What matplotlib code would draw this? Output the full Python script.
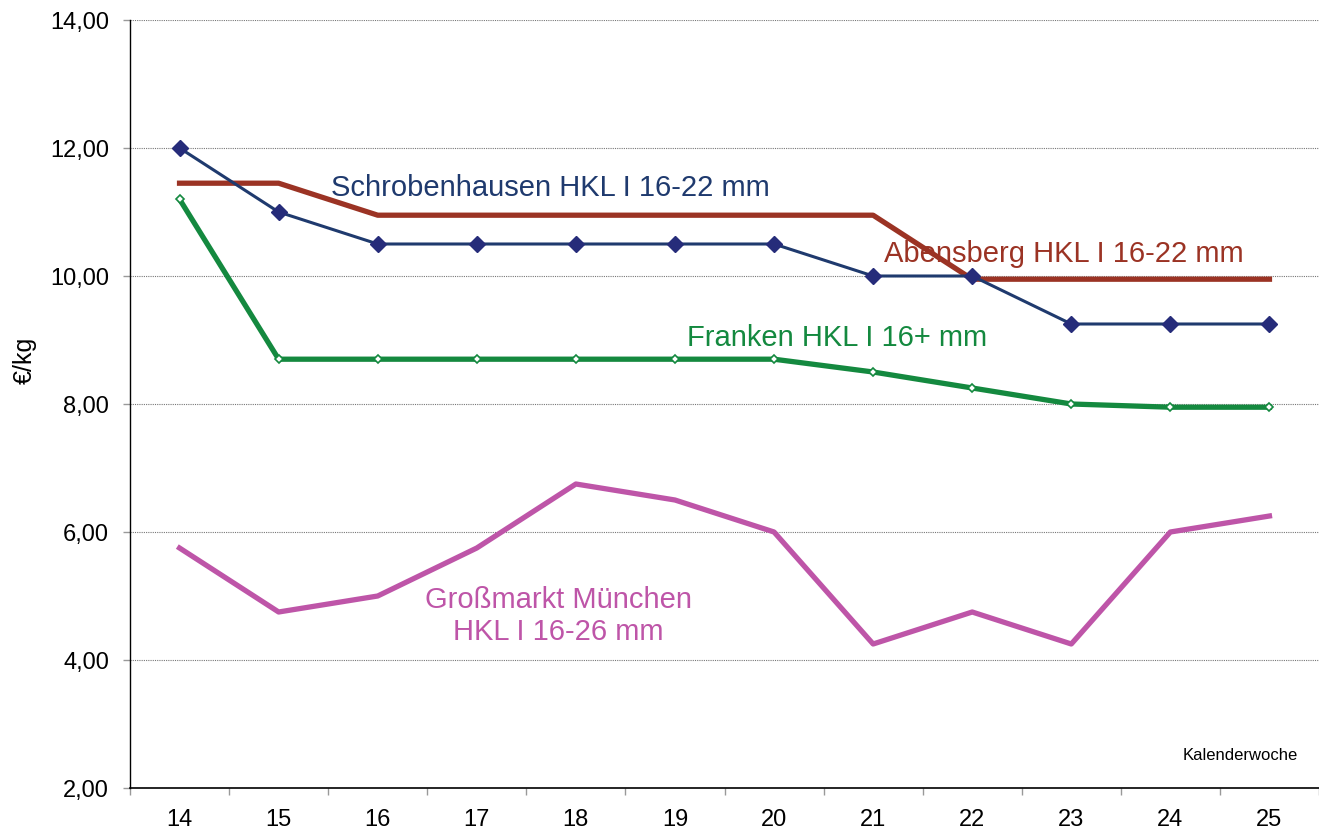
import matplotlib
matplotlib.use("Agg")
from matplotlib import pyplot as plt
from matplotlib.ticker import FuncFormatter

plt.rcParams['font.family'] = ['Liberation Sans', 'DejaVu Sans']

weeks = [14, 15, 16, 17, 18, 19, 20, 21, 22, 23, 24, 25]
schrobenhausen = [12.0, 11.0, 10.5, 10.5, 10.5, 10.5, 10.5, 10.0, 10.0, 9.25, 9.25, 9.25]
abensberg = [11.45, 11.45, 10.95, 10.95, 10.95, 10.95, 10.95, 10.95, 9.95, 9.95, 9.95, 9.95]
franken = [11.2, 8.7, 8.7, 8.7, 8.7, 8.7, 8.7, 8.5, 8.25, 8.0, 7.95, 7.95]
grossmarkt = [5.75, 4.75, 5.0, 5.75, 6.75, 6.5, 6.0, 4.25, 4.75, 4.25, 6.0, 6.25]

fig = plt.figure(figsize=(13.19, 8.36), dpi=100)
ax = fig.add_axes([130 / 1319, 1 - 788 / 836, 1 - 130 / 1319, (788 - 20) / 836])

# dotted grid behind the lines
ax.set_axisbelow(True)
ax.yaxis.grid(True, linestyle=(0, (1, 1)), color='#777777', linewidth=0.8)

ax.plot(weeks, grossmarkt, color='#BE55A8', linewidth=3.8)
ax.plot(weeks, franken, color='#14893F', linewidth=3.8, marker='D', markersize=4.5,
        markerfacecolor='white', markeredgecolor='#14893F', markeredgewidth=1.2)
ax.plot(weeks, abensberg, color='#9B3324', linewidth=3.8)
ax.plot(weeks, schrobenhausen, color='#1F3A6E', linewidth=2.2, marker='D', markersize=8.5,
        markerfacecolor='#262C7A', markeredgecolor='#262C7A')

ax.set_xlim(13.5, 25.5)
ax.set_ylim(2, 14)
ax.set_yticks([2, 4, 6, 8, 10, 12, 14])
ax.yaxis.set_major_formatter(FuncFormatter(lambda v, p: f"{v:.2f}".replace('.', ',')))
ax.set_xticks(weeks)
ax.set_xticks([w - 0.5 for w in weeks] + [25.5], minor=True)
ax.tick_params(axis='x', which='major', length=0, labelsize=17, pad=15)
ax.tick_params(axis='x', which='minor', length=5, color='#999999', width=1)
ax.tick_params(axis='y', length=5, color='#999999', width=1, labelsize=17, pad=10)

for s in ['top', 'right']:
    ax.spines[s].set_visible(False)
ax.spines['left'].set_linewidth(1)
ax.spines['bottom'].set_linewidth(1.2)

fig.text(25 / 1319, 1 - 360 / 836, '€/kg', fontsize=18, rotation=90, ha='center', va='center')

ax.text(15.53, 11.375, 'Schrobenhausen HKL I 16-22 mm', color='#1F3A6E', fontsize=21, va='center')
ax.text(21.11, 10.34, 'Abensberg HKL I 16-22 mm', color='#9B3324', fontsize=21, va='center')
ax.text(19.12, 9.03, 'Franken HKL I 16+ mm', color='#14893F', fontsize=21, va='center')
ax.text(17.82, 4.69, 'Großmarkt München\nHKL I 16-26 mm', color='#BE55A8', fontsize=21,
        ha='center', va='center', linespacing=1.2)
ax.text(25.29, 2.5, 'Kalenderwoche', fontsize=12, ha='right', va='center')

fig.savefig('out.png', dpi=100)
